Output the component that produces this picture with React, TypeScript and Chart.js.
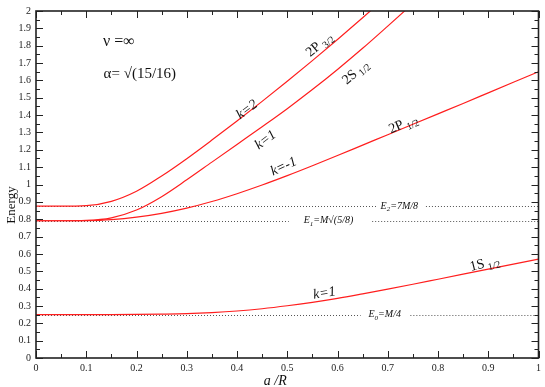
import React, { useEffect, useRef } from 'react';
import { Chart, registerables } from 'chart.js';

Chart.register(...registerables);

// ---- data ----
const xFull = [0, 0.05, 0.1, 0.15, 0.2, 0.25, 0.3, 0.35, 0.4, 0.45, 0.5, 0.55, 0.6, 0.65, 0.7, 0.75, 0.8, 0.85, 0.9, 0.95, 1.0];
const x2P32 = [0, 0.05, 0.1, 0.15, 0.2, 0.25, 0.3, 0.35, 0.4, 0.45, 0.5, 0.55, 0.6, 0.65, 0.7];
const x2S12 = [0, 0.05, 0.1, 0.15, 0.2, 0.25, 0.3, 0.35, 0.4, 0.45, 0.5, 0.55, 0.6, 0.65, 0.7, 0.75];

const energy1S12 = [0.25, 0.25, 0.25, 0.25, 0.251, 0.253, 0.256, 0.262, 0.271, 0.284, 0.301, 0.321, 0.344, 0.37, 0.397, 0.425, 0.454, 0.483, 0.512, 0.541, 0.57];
const energy2P12 = [0.791, 0.791, 0.792, 0.798, 0.812, 0.834, 0.864, 0.902, 0.947, 0.997, 1.051, 1.108, 1.167, 1.227, 1.287, 1.347, 1.407, 1.467, 1.528, 1.589, 1.65];
const energy2S12 = [0.791, 0.791, 0.793, 0.808, 0.853, 0.93, 1.027, 1.129, 1.231, 1.333, 1.437, 1.547, 1.663, 1.785, 1.913, 2.043];
const energy2P32 = [0.875, 0.875, 0.878, 0.903, 0.961, 1.049, 1.149, 1.256, 1.366, 1.479, 1.595, 1.714, 1.836, 1.961, 2.089];

const levelValues = [0.25, 0.7906, 0.875];
const levelText = [
  [['E', 0], ['0', 1], ['=M/4', 0]],
  [['E', 0], ['1', 1], ['=M\u221A(5/8)', 0]],
  [['E', 0], ['2', 1], ['=7M/8', 0]],
];
// gap in the dotted line where the label sits (x from, x to, label centre x)
const levelGaps = [
  [0.646, 0.745, 0.694],
  [0.503, 0.669, 0.582],
  [0.677, 0.776, 0.723],
];

const xTicks = [0, 0.1, 0.2, 0.3, 0.4, 0.5, 0.6, 0.7, 0.8, 0.9, 1];
const yTicks = [0, 0.1, 0.2, 0.3, 0.4, 0.5, 0.6, 0.7, 0.8, 0.9, 1, 1.1, 1.2, 1.3, 1.4, 1.5, 1.6, 1.7, 1.8, 1.9, 2];
const minorStep = 0.05;

// curve labels: [x, y, angle(deg), parts, italic]
const curveLabels: any[] = [
  [0.564, 1.805, -40, [['2P', 0], [' 3/2', 1]], false],
  [0.42, 1.431, -37, [['k=2', 0]], true],
  [0.636, 1.646, -41, [['2S', 0], [' 1/2', 1]], false],
  [0.457, 1.256, -37, [['k=1', 0]], true],
  [0.493, 1.103, -25, [['k=-1', 0]], true],
  [0.731, 1.347, -23, [['2P', 0], [' 1/2', 1]], false],
  [0.893, 0.543, -14, [['1S', 0], [' 1/2', 1]], false],
  [0.574, 0.373, -9, [['k=1', 0]], true],
];

const SERIF = '"Liberation Serif", "Times New Roman", serif';

function drawRich(ctx: CanvasRenderingContext2D, cx: number, cy: number, angle: number, parts: any[], size: number, italic: boolean) {
  const it = italic ? 'italic ' : '';
  const mainFont = `${it}${size}px ${SERIF}`;
  const subFont = `${it}${Math.round(size * 0.7)}px ${SERIF}`;
  let total = 0;
  const widths: number[] = [];
  for (const [t, s] of parts) {
    ctx.font = s ? subFont : mainFont;
    const w = ctx.measureText(t).width;
    widths.push(w);
    total += w;
  }
  ctx.save();
  ctx.translate(cx, cy);
  ctx.rotate((angle * Math.PI) / 180);
  ctx.textBaseline = 'middle';
  ctx.textAlign = 'left';
  ctx.fillStyle = '#111';
  let xx = -total / 2;
  parts.forEach(([t, s]: any, i: number) => {
    ctx.font = s ? subFont : mainFont;
    ctx.fillText(t, xx, s ? size * 0.32 : 0);
    xx += widths[i];
  });
  ctx.restore();
}

const annotPlugin = {
  id: 'annot',
  beforeDatasetsDraw(chart: any) {
    const { ctx, scales } = chart;
    const x = scales.x;
    const y = scales.y;
    ctx.save();
    ctx.strokeStyle = '#555';
    ctx.lineWidth = 1;
    ctx.setLineDash([1, 2]);
    levelValues.forEach((v, i) => {
      const py = Math.round(y.getPixelForValue(v)) + 0.5;
      const [g0, g1] = levelGaps[i];
      ctx.beginPath();
      ctx.moveTo(x.getPixelForValue(0), py);
      ctx.lineTo(x.getPixelForValue(g0), py);
      ctx.moveTo(x.getPixelForValue(g1), py);
      ctx.lineTo(x.getPixelForValue(1), py);
      ctx.stroke();
    });
    ctx.restore();
  },
  afterDatasetsDraw(chart: any) {
    const { ctx, scales } = chart;
    const x = scales.x;
    const y = scales.y;
    levelValues.forEach((v, i) => {
      drawRich(ctx, x.getPixelForValue(levelGaps[i][2]), y.getPixelForValue(v), 0, levelText[i], 10, true);
    });
    curveLabels.forEach(([lx, ly, ang, parts, it]) => {
      drawRich(ctx, x.getPixelForValue(lx), y.getPixelForValue(ly), ang, parts, 14, it);
    });
    drawRich(ctx, x.getPixelForValue(0.129) + 18, y.getPixelForValue(1.82), 0, [['\u03BD =\u221E', 0]], 16, false);
    drawRich(ctx, x.getPixelForValue(0.135) + 36, y.getPixelForValue(1.635), 0, [['\u03B1= \u221A(15/16)', 0]], 15, false);
  },
  afterDraw(chart: any) {
    const { ctx, chartArea: a, scales } = chart;
    const x = scales.x;
    const y = scales.y;
    ctx.save();
    ctx.strokeStyle = '#222';
    ctx.lineWidth = 1;
    const nx = Math.round(1 / minorStep);
    for (let i = 0; i <= nx; i++) {
      const px = Math.round(x.getPixelForValue(i * minorStep)) + 0.5;
      const len = i % 2 === 0 ? 7 : 4;
      ctx.beginPath();
      ctx.moveTo(px, a.bottom); ctx.lineTo(px, a.bottom - len);
      ctx.moveTo(px, a.top); ctx.lineTo(px, a.top + len);
      ctx.stroke();
    }
    const ny = Math.round(2 / minorStep);
    for (let i = 0; i <= ny; i++) {
      const py = Math.round(y.getPixelForValue(i * minorStep)) + 0.5;
      const len = i % 2 === 0 ? 7 : 4;
      ctx.beginPath();
      ctx.moveTo(a.left, py); ctx.lineTo(a.left + len, py);
      ctx.moveTo(a.right, py); ctx.lineTo(a.right - len, py);
      ctx.stroke();
    }
    ctx.lineWidth = 1.6;
    ctx.strokeRect(a.left, a.top, a.right - a.left, a.bottom - a.top);
    ctx.restore();
    // axis titles
    drawRich(ctx, 12, 205, -90, [['Energy', 0]], 13, false);
    drawRich(ctx, (a.left + a.right) / 2 - 12, 381, 0, [['a /R', 0]], 14, true);
  },
};

function mk(xs: number[], ys: number[]) {
  return xs.map((v, i) => ({ x: v, y: ys[i] }));
}

export default function App() {
  const ref = useRef<HTMLCanvasElement>(null);
  useEffect(() => {
    document.body.style.margin = '0';
    const lineStyle = {
      borderColor: 'rgb(255,30,30)',
      borderWidth: 1.2,
      pointRadius: 0,
      fill: false,
      cubicInterpolationMode: 'monotone' as const,
      showLine: true,
    };
    const chart = new Chart(ref.current!, {
      type: 'scatter',
      data: {
        datasets: [
          { label: '1S1/2', data: mk(xFull, energy1S12), ...lineStyle },
          { label: '2P1/2', data: mk(xFull, energy2P12), ...lineStyle },
          { label: '2S1/2', data: mk(x2S12, energy2S12), ...lineStyle },
          { label: '2P3/2', data: mk(x2P32, energy2P32), ...lineStyle },
        ],
      },
      options: {
        animation: false,
        responsive: true,
        maintainAspectRatio: false,
        layout: { padding: { top: 4.5, right: 4, left: 0, bottom: 0 } },
        plugins: { legend: { display: false }, tooltip: { enabled: false } },
        scales: {
          x: {
            type: 'linear',
            min: 0,
            max: 1,
            grid: { display: false, drawTicks: false },
            border: { display: false },
            afterBuildTicks: (s: any) => { s.ticks = xTicks.map((v) => ({ value: v })); },
            afterFit: (s: any) => { s.height = 29; },
            ticks: {
              padding: 4,
              maxRotation: 0,
              autoSkip: false,
              color: '#222',
              font: { family: SERIF, size: 10 },
              callback: (v: any) => String(Number(Number(v).toFixed(2))),
            },
          },
          y: {
            type: 'linear',
            min: 0,
            max: 2,
            grid: { display: false, drawTicks: false },
            border: { display: false },
            afterBuildTicks: (s: any) => { s.ticks = yTicks.map((v) => ({ value: v })); },
            afterFit: (s: any) => { s.width = 36; },
            ticks: {
              padding: 5,
              autoSkip: false,
              color: '#222',
              font: { family: SERIF, size: 10 },
              callback: (v: any) => String(Number(Number(v).toFixed(2))),
            },
          },
        },
      },
      plugins: [annotPlugin],
    });
    return () => chart.destroy();
  }, []);
  return (
    <div style={{ position: 'fixed', left: 0, top: 0, width: 545, height: 387 }}>
      <canvas ref={ref} />
    </div>
  );
}
